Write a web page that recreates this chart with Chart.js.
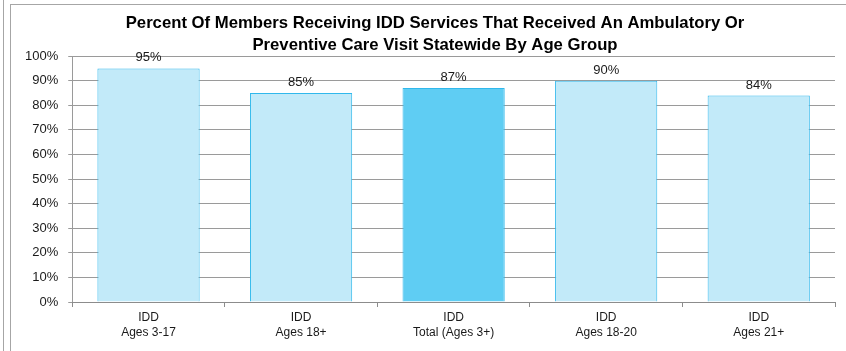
<!DOCTYPE html>
<html>
<head>
<meta charset="utf-8">
<script src="https://cdn.jsdelivr.net/npm/chart.js@4/dist/chart.umd.min.js"></script>
<style>
    html, body { margin: 0; padding: 0; background: #fff; }
    #wrap { position: relative; width: 846px; height: 351px; overflow: hidden; }
    #chartOne { position: absolute; left: 0; top: 0; }
    .edge { position: absolute; background: #a6a6a6; }
</style>
</head>
<body>
<div id="wrap">
    <div class="edge" style="left:3px;top:0;width:1px;height:351px;"></div>
    <div class="edge" style="left:10px;top:4px;width:1px;height:347px;"></div>
    <div class="edge" style="left:10px;top:4px;width:836px;height:1px;"></div>
    <canvas id="chartOne" width="855" height="351"></canvas>
</div>
<script>
var categories = [
    ['IDD', 'Ages 3-17'],
    ['IDD', 'Ages 18+'],
    ['IDD', 'Total (Ages 3+)'],
    ['IDD', 'Ages 18-20'],
    ['IDD', 'Ages 21+']
];
var percentValues = [95, 85, 87, 90, 84];
var yTicks = [0, 10, 20, 30, 40, 50, 60, 70, 80, 90, 100];
var titleLines = [
    'Percent Of Members Receiving IDD Services That Received An Ambulatory Or',
    'Preventive Care Visit Statewide By Age Group'
];

document.addEventListener('DOMContentLoaded', function () {
    var fontFamily = '"Liberation Sans", Arial, sans-serif';
    var lightFill = 'rgb(194, 234, 249)';
    var darkFill = 'rgb(95, 205, 243)';
    var edgeBlue = 'rgb(48, 184, 236)';

    var fills = categories.map(function (c, i) {
        return i === 2 ? darkFill : lightFill;
    });

    // value labels above each bar
    var valueLabels = {
        id: 'valueLabels',
        afterDatasetsDraw: function (chart) {
            var ctx = chart.ctx;
            var meta = chart.getDatasetMeta(0);
            ctx.save();
            ctx.font = '13px ' + fontFamily;
            ctx.fillStyle = '#1a1a1a';
            ctx.textAlign = 'center';
            ctx.textBaseline = 'bottom';
            meta.data.forEach(function (bar, i) {
                ctx.fillText(percentValues[i] + '%', bar.x, bar.y - 4);
            });
            ctx.restore();
        }
    };

    var chartOne = document.getElementById('chartOne');
    var myChart = new Chart(chartOne, {
        type: 'bar',
        data: {
            labels: categories,
            datasets: [{
                label: 'Percent',
                data: percentValues,
                backgroundColor: fills,
                borderColor: edgeBlue,
                borderWidth: 1,
                categoryPercentage: 1,
                barPercentage: 0.67
            }]
        },
        options: {
            responsive: false,
            animation: false,
            layout: {
                padding: { left: 15, right: 0, top: 0, bottom: 8 }
            },
            plugins: {
                legend: { display: false },
                tooltip: { enabled: false },
                title: {
                    display: true,
                    text: titleLines,
                    color: '#000',
                    font: { family: fontFamily, size: 16.7, weight: 'bold', lineHeight: 1.32 },
                    padding: { top: 12, bottom: 0 }
                }
            },
            scales: {
                y: {
                    min: 0,
                    max: 100,
                    afterBuildTicks: function (axis) {
                        axis.ticks = yTicks.map(function (v) { return { value: v }; });
                    },
                    ticks: {
                        callback: function (value) { return value + '%'; },
                        color: '#1a1a1a',
                        font: { family: fontFamily, size: 13 },
                        padding: 10
                    },
                    grid: {
                        color: '#9a9a9a',
                        tickLength: 4,
                        lineWidth: 1
                    },
                    border: { color: '#9a9a9a' }
                },
                // empty strip on the right so the title sits a bit right of the plot centre
                spacer: {
                    type: 'linear',
                    position: 'right',
                    ticks: { display: false },
                    grid: { display: false },
                    border: { display: false },
                    afterFit: function (axis) {
                        axis.width = 20;
                    }
                },
                x: {
                    ticks: {
                        color: '#1a1a1a',
                        font: { family: fontFamily, size: 12, lineHeight: 1.25 },
                        padding: 3,
                        maxRotation: 0
                    },
                    grid: {
                        offset: true,
                        drawOnChartArea: false,
                        color: '#8c8c8c',
                        tickLength: 5
                    },
                    border: { color: '#8c8c8c' }
                }
            }
        },
        plugins: [valueLabels]
    });
});
</script>
</body>
</html>
